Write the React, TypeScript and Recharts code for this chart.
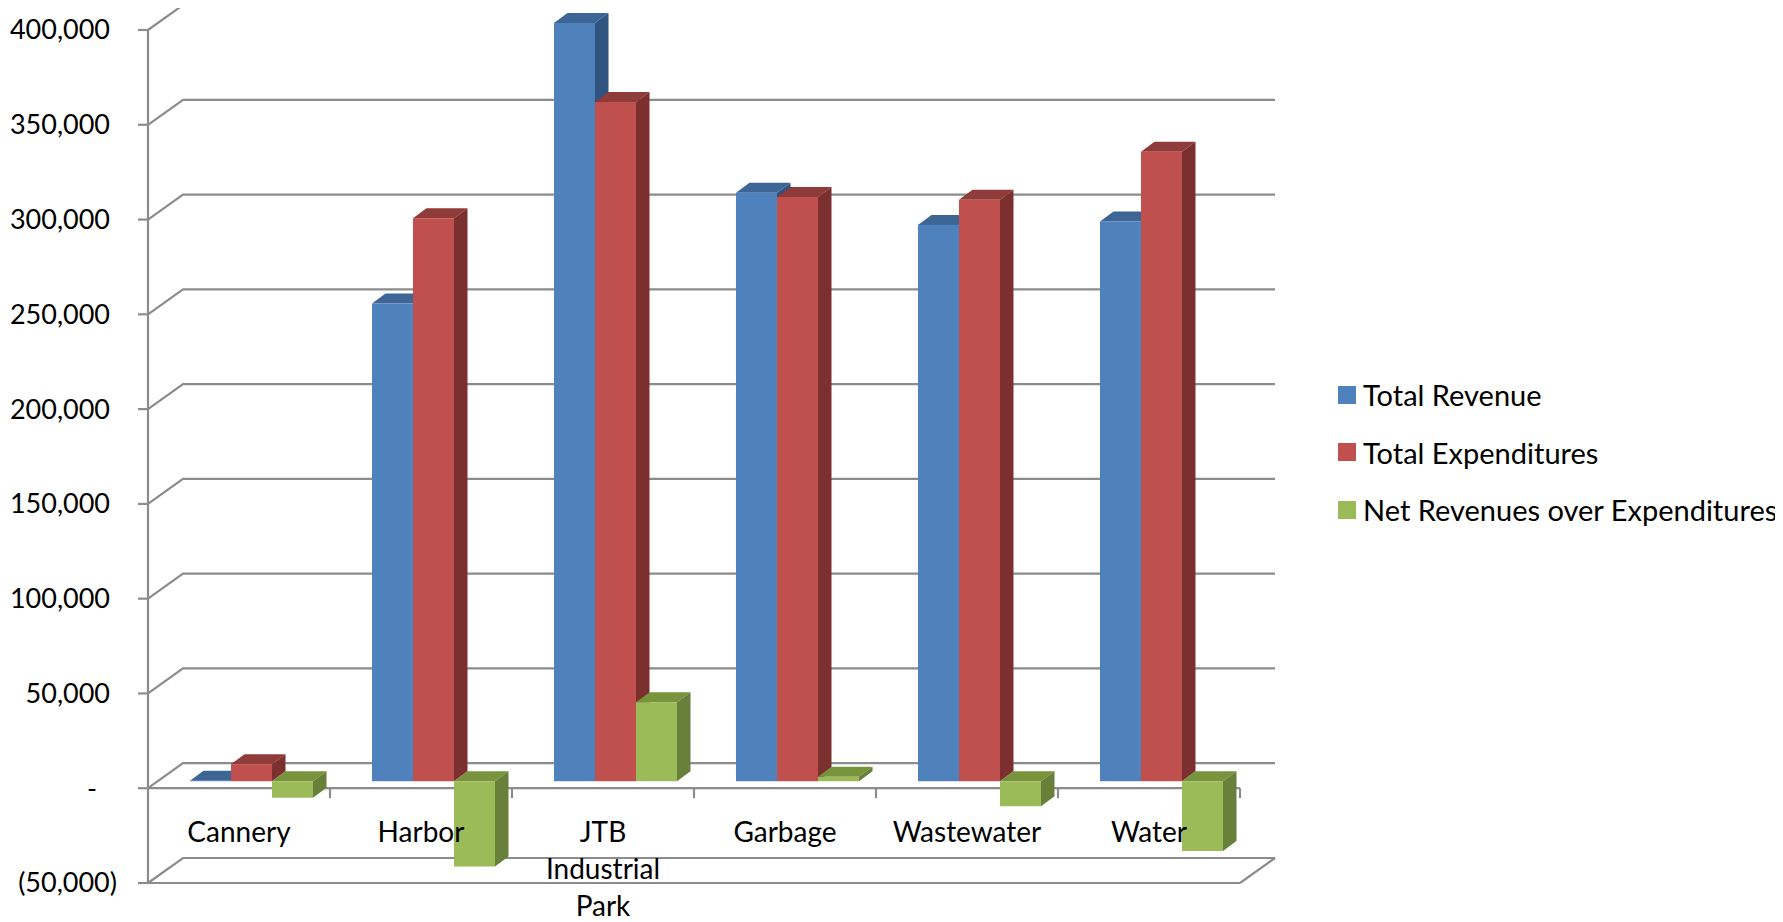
import { Bar, BarChart, CartesianGrid, Legend, XAxis, YAxis } from 'recharts'

// Values
const categories = ['Cannery', 'Harbor', 'JTB Industrial Park', 'Garbage', 'Wastewater', 'Water']
const totalRevenue = [300, 252000, 400000, 310500, 293500, 295300]
const totalExpenditures = [9000, 297000, 358300, 308200, 306700, 332100]
const netRevenues = [-8700, -45000, 41700, 2300, -13200, -36800]
const yTicks = [-50000, 0, 50000, 100000, 150000, 200000, 250000, 300000, 350000, 400000]

const seriesNames = ['Total Revenue', 'Total Expenditures', 'Net Revenues over Expenditures']
const seriesKeys = ['revenue', 'expenditures', 'net']
// front face, top face, side face
const seriesColors = [
  ['#4F81BD', '#3D6596', '#31537F'],
  ['#C0504D', '#8F3B39', '#7B302F'],
  ['#9BBB59', '#77933C', '#68803A'],
]

const data = categories.map((name, i) => ({
  name,
  revenue: totalRevenue[i],
  expenditures: totalExpenditures[i],
  net: netRevenues[i],
}))

const FONT = 'Lato, "Open Sans", sans-serif'
const GRID = '#8C8C8C'
// depth of the back wall and of the bars
const WALL_DX = 35
const WALL_DY = -25
const BAR_DX = 12
const BAR_DY = -7
const DEPTH_DX = 13.5
const DEPTH_DY = -10

const makeBar3D = (front: string, top: string, side: string) => (props: any) => {
  const { x, y, width, height } = props
  const y0 = Math.min(y, y + height) + BAR_DY
  const y1 = Math.max(y, y + height) + BAR_DY
  const x0 = x + BAR_DX
  const x1 = x0 + width
  return (
    <g>
      <polygon
        points={`${x0},${y0} ${x1},${y0} ${x1 + DEPTH_DX},${y0 + DEPTH_DY} ${x0 + DEPTH_DX},${y0 + DEPTH_DY}`}
        fill={top}
      />
      <polygon
        points={`${x1},${y0} ${x1 + DEPTH_DX},${y0 + DEPTH_DY} ${x1 + DEPTH_DX},${y1 + DEPTH_DY} ${x1},${y1}`}
        fill={side}
      />
      <rect x={x0} y={y0} width={width} height={Math.max(y1 - y0, 0.5)} fill={front} />
    </g>
  )
}

// side wall + back wall gridlines, floor and zero plane edges
const renderGridLine = (props: any) => {
  const { x1, x2, y1, y, height, index } = props
  const dMin = yTicks[0]
  const dMax = yTicks[yTicks.length - 1]
  const value = dMax - ((y1 - y) / height) * (dMax - dMin)
  const isFloor = Math.abs(value - dMin) < 1
  const isZero = Math.abs(value) < 1
  const bx = WALL_DX
  const by = WALL_DY
  const step = (x2 - x1) / categories.length
  return (
    <g key={`grid-${index}`} stroke={GRID} strokeWidth={2.2} fill='none'>
      <path d={`M${x1},${y1} L${x1 + bx},${y1 + by} L${x2 + bx},${y1 + by}`} />
      {(isFloor || isZero) && <path d={`M${x1},${y1} L${x2},${y1}`} />}
      {isFloor && <path d={`M${x2},${y1} L${x2 + bx},${y1 + by}`} />}
      {isZero &&
        categories.map((c, i) => (
          <path key={c} d={`M${x1 + step * (i + 1)},${y1} L${x1 + step * (i + 1)},${y1 + 10}`} />
        ))}
    </g>
  )
}

const formatValue = (v: number) =>
  v === 0 ? '-' : v < 0 ? `(${Math.abs(v).toLocaleString('en-US')})` : v.toLocaleString('en-US')

const ValueTick = (props: any) => {
  const { x, y, payload } = props
  const v = payload.value
  const shift = v < 0 ? 0 : v === 0 ? -20 : -7
  return (
    <text x={x + shift} y={y} dy='0.35em' textAnchor='end' fill='#000' fontSize={27} fontFamily={FONT}>
      {formatValue(v)}
    </text>
  )
}

const CategoryTick = (props: any) => {
  const { x, y, payload } = props
  const lines = String(payload.value).split(' ')
  return (
    <text x={x} y={y - 41} textAnchor='middle' fill='#000' fontSize={28} fontFamily={FONT}>
      {lines.map((line, i) => (
        <tspan key={line} x={x} dy={i === 0 ? 0 : 37}>
          {line}
        </tspan>
      ))}
    </text>
  )
}

const renderLegend = () => (
  <div style={{ fontFamily: FONT, fontSize: 29, color: '#000' }}>
    {seriesNames.map((name, i) => (
      <div key={name} style={{ height: 57.5, display: 'flex', alignItems: 'center', whiteSpace: 'nowrap' }}>
        <span style={{ width: 18, height: 18, background: seriesColors[i][0], marginRight: 7, flex: 'none' }} />
        <span>{name}</span>
      </div>
    ))}
  </div>
)

export default function App() {
  return (
    <div style={{ fontFamily: FONT }}>
      <BarChart
        width={1775}
        height={914}
        data={data}
        margin={{ top: 22, right: 543, bottom: 0, left: 0 }}
        barSize={41}
        barGap={0}
      >
        <CartesianGrid vertical={false} horizontal={renderGridLine} />
        <XAxis
          dataKey='name'
          axisLine={false}
          tickLine={false}
          tickSize={0}
          tickMargin={0}
          height={39}
          interval={0}
          tick={<CategoryTick />}
        />
        <YAxis
          width={140}
          domain={[yTicks[0], yTicks[yTicks.length - 1]]}
          ticks={yTicks}
          interval={0}
          tickSize={10}
          tickMargin={21}
          axisLine={{ stroke: GRID, strokeWidth: 2.2 }}
          tickLine={{ stroke: GRID, strokeWidth: 2.2 }}
          tick={<ValueTick />}
        />
        {seriesKeys.map((key, i) => (
          <Bar
            key={key}
            dataKey={key}
            name={seriesNames[i]}
            fill={seriesColors[i][0]}
            isAnimationActive={false}
            shape={makeBar3D(seriesColors[i][0], seriesColors[i][1], seriesColors[i][2])}
          />
        ))}
        <Legend
          layout='vertical'
          align='center'
          verticalAlign='middle'
          content={renderLegend}
          wrapperStyle={{ left: 1330, top: 358, width: 445 }}
        />
      </BarChart>
    </div>
  )
}
